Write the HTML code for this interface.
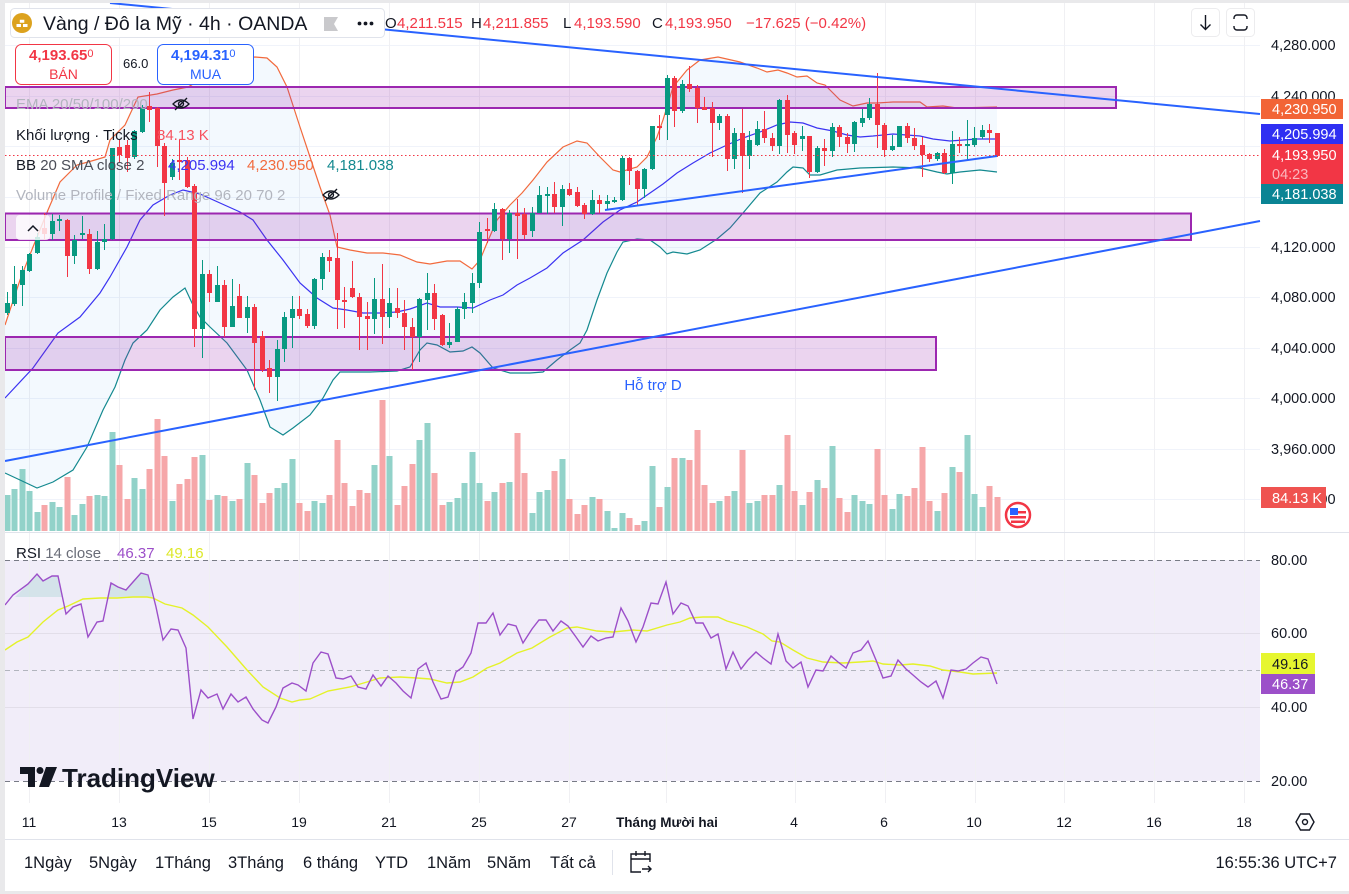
<!DOCTYPE html>
<html><head><meta charset="utf-8">
<style>
html,body{margin:0;padding:0;background:#fff;overflow:hidden;}
svg{display:block;font-family:"Liberation Sans","DejaVu Sans",sans-serif;}
</style></head><body>
<svg id="s" width="1349" height="894" viewBox="0 0 1349 894" xmlns="http://www.w3.org/2000/svg">
<rect x="0" y="0" width="1349" height="894" fill="#fff"/>
<!-- grid -->
<g stroke="#f0f3fa" stroke-width="1">
<line x1="5" y1="45.5" x2="1260" y2="45.5"/><line x1="5" y1="96.5" x2="1260" y2="96.5"/>
<line x1="5" y1="146.5" x2="1260" y2="146.5"/><line x1="5" y1="197.5" x2="1260" y2="197.5"/>
<line x1="5" y1="247.5" x2="1260" y2="247.5"/><line x1="5" y1="297.5" x2="1260" y2="297.5"/>
<line x1="5" y1="348.5" x2="1260" y2="348.5"/><line x1="5" y1="398.5" x2="1260" y2="398.5"/>
<line x1="5" y1="449.5" x2="1260" y2="449.5"/><line x1="5" y1="499.5" x2="1260" y2="499.5"/>
</g>
<!-- RSI background -->
<rect x="5" y="560" width="1255" height="221" fill="#f1edf9"/>
<g stroke="#f0f0f3" stroke-width="1">
<line x1="29.5" y1="3" x2="29.5" y2="803"/><line x1="119.5" y1="3" x2="119.5" y2="803"/>
<line x1="209.5" y1="3" x2="209.5" y2="803"/><line x1="299.5" y1="3" x2="299.5" y2="803"/>
<line x1="389.5" y1="3" x2="389.5" y2="803"/><line x1="479.5" y1="3" x2="479.5" y2="803"/>
<line x1="569.5" y1="3" x2="569.5" y2="803"/><line x1="666.5" y1="3" x2="666.5" y2="803"/>
<line x1="795.5" y1="3" x2="795.5" y2="803"/><line x1="885.5" y1="3" x2="885.5" y2="803"/>
<line x1="975.5" y1="3" x2="975.5" y2="803"/><line x1="1064.5" y1="3" x2="1064.5" y2="803"/>
<line x1="1154.5" y1="3" x2="1154.5" y2="803"/><line x1="1244.5" y1="3" x2="1244.5" y2="803"/>
</g>
<g stroke="#e2dee9" stroke-width="1">
<line x1="5" y1="633.5" x2="1260" y2="633.5"/><line x1="5" y1="707.5" x2="1260" y2="707.5"/>
</g>
<line x1="5" y1="560.5" x2="1260" y2="560.5" stroke="#787b86" stroke-dasharray="5 4"/>
<line x1="5" y1="781.5" x2="1260" y2="781.5" stroke="#787b86" stroke-dasharray="5 4"/>
<line x1="5" y1="670.5" x2="1260" y2="670.5" stroke="#b2b5be" stroke-dasharray="5 4"/>

<!-- BB fill -->
<polygon id="bbfill" fill="#2196f3" fill-opacity="0.055" points=""/>
<!-- volume -->
<g id="vol"></g>
<!-- BB lines -->
<polyline id="bbu" fill="none" stroke="#f26a3d" stroke-width="1.2" points="5,325 20,280 33,247 48,210 60,182 77,165 95,160 105,157 110,140 125,125 138,97 157,94 173,90 188,87 200,80 215,70 230,62 245,58 255,57 267,58 277,67 287,87 300,127 310,157 320,187 330,215 337,247 350,250 367,253 383,253 400,255 417,262 430,264 447,261 460,261 472,269 480,260 487,243 497,220 510,205 522,193 533,180 547,162 563,147 577,141 587,143 600,157 613,170 620,172 637,167 647,157 657,137 663,120 673,87 687,70 700,60 718,57 740,62 757,68 767,72 778,70 787,73 797,77 807,76 817,83 825,85 833,93 840,100 853,106 867,103 877,103 893,102 920,102 927,107 943,106 957,108 997,107"/>
<polyline fill="none" stroke="#3b33f2" stroke-width="1.2" points="5,398 33,368 58,333 80,317 100,293 110,277 127,247 140,220 153,205 170,195 183,190 200,194 220,203 240,212 253,220 267,240 283,260 300,283 317,298 333,308 347,310 363,313 380,313 397,312 410,309 427,303 440,307 457,307 473,308 490,300 503,295 517,285 530,278 547,268 563,253 583,240 603,222 620,210 637,202 650,193 663,184 677,173 693,163 710,153 727,145 743,138 760,132 777,125 790,122 803,123 817,128 833,131 847,135 860,137 873,136 893,134 920,136 933,139 950,141 977,139 997,139"/>
<polyline id="bbl" fill="none" stroke="#13898f" stroke-width="1.2" points="5,473 20,480 37,488 53,482 73,470 87,447 103,410 115,387 125,360 133,343 147,330 160,310 173,297 185,288 192,303 200,317 210,327 227,343 247,370 260,400 270,427 283,435 293,428 310,415 323,398 333,380 340,372 350,372 370,372 397,371 410,367 420,350 427,343 437,345 450,352 463,351 472,347 480,353 493,368 510,373 530,373 543,372 557,360 570,350 580,343 587,330 597,300 607,273 617,252 623,242 637,239 650,240 660,247 667,254 673,252 687,254 700,250 717,239 730,228 743,213 760,193 777,182 787,172 793,167 803,168 810,175 820,175 837,170 860,168 893,167 920,168 937,172 947,174 953,173 960,172 980,170 997,172"/>
<!-- zones -->
<rect x="5" y="87" width="1111" height="21" fill="#9c27b0" fill-opacity="0.2" stroke="#9c27b0" stroke-width="2"/>
<rect x="5" y="213.5" width="1186" height="26.5" fill="#9c27b0" fill-opacity="0.2" stroke="#9c27b0" stroke-width="2"/>
<rect x="5" y="337" width="931" height="33" fill="#9c27b0" fill-opacity="0.2" stroke="#9c27b0" stroke-width="2"/>
<!-- candles -->
<g id="cd"></g>
<!-- trendlines -->
<g stroke="#2962ff" stroke-width="2" fill="none">
<line x1="110" y1="3" x2="1260" y2="114"/>
<line x1="5" y1="461" x2="1260" y2="221"/>
<line x1="605" y1="210" x2="997" y2="156"/>
</g>
<text x="653" y="390" font-size="15" fill="#2962ff" text-anchor="middle">Hỗ trợ D</text>
<!-- price line -->
<line x1="5" y1="155.5" x2="1260" y2="155.5" stroke="#f23645" stroke-width="1" stroke-dasharray="1.5 2.5"/>

<!-- RSI -->
<polygon fill="#089981" fill-opacity="0.12" points="15,597 28,584 37,574 43,581 52,576 58,576 62,597"/>
<polygon fill="#089981" fill-opacity="0.12" points="108,597 111,583 118,587 126,590 133,582 141,573 148,575 152,597"/>
<polyline fill="none" stroke="#e4f228" stroke-width="1.4" points="5,650 17,642 28,637 43,622 58,610 68,606 83,599 100,598 117,598 133,597 147,597 153,598 165,604 182,608 193,615 208,627 227,647 247,670 263,687 280,698 292,702 300,700 310,699 328,691 350,687 367,682 380,678 400,677 417,678 430,679 447,683 460,682 473,677 487,668 500,663 517,653 532,648 550,637 567,628 577,627 597,631 613,632 633,630 647,631 667,625 680,622 690,618 703,617 718,617 727,621 747,627 763,634 772,641 780,642 793,650 807,658 823,662 843,663 860,662 873,661 883,664 900,665 913,664 930,666 943,670 960,672 973,674 997,673"/>
<polyline fill="none" stroke="#9c4fc9" stroke-width="1.4" points="5,605 13,595 28,584 37,574 43,581 52,576 58,576 66,614 73,607 81,604 88,637 97,622 103,621 111,583 118,587 126,590 133,582 141,573 148,575 156,607 163,640 171,629 178,630 186,648 193,719 201,690 208,698 217,694 223,709 231,694 238,702 246,697 253,709 262,720 268,723 276,707 283,688 292,683 298,685 306,691 313,663 321,652 328,654 336,678 343,679 351,676 358,687 366,689 373,675 381,686 388,676 396,683 403,691 411,698 418,669 426,663 433,682 441,699 448,697 456,672 463,667 471,653 478,623 486,623 493,613 500,635 508,624 516,626 523,643 532,629 539,620 546,620 553,631 561,621 568,626 576,637 583,647 591,636 598,641 606,638 613,637 621,608 628,621 636,642 643,627 651,603 658,604 666,582 673,614 681,603 688,606 696,623 703,623 711,638 718,634 726,669 733,652 741,669 748,660 756,652 763,658 771,664 778,634 786,661 793,668 801,662 808,687 816,670 823,671 831,656 838,662 846,668 853,653 861,650 868,641 876,660 883,678 891,676 898,660 906,669 913,675 921,682 928,687 936,681 943,698 951,670 958,671 966,669 973,663 981,657 988,659 997,684"/>

<!-- header legend -->
<rect x="10.5" y="8.5" width="374" height="29" rx="4" fill="#fff" stroke="#e0e3eb"/>
<circle cx="22" cy="23" r="10" fill="#dca21e"/>
<path d="M16.5 27h4.5v-3h-4.5z M23 27h4.5v-3h-4.5z M19.8 22.8h4.5v-3h-4.5z" fill="#fff"/>
<text x="43" y="30" font-size="19.5" fill="#131722">Vàng / Đô la Mỹ · 4h · OANDA</text>
<path d="M324 17h14l-4 7 4 7h-14z" fill="#c9c9cc"/>
<circle cx="359.5" cy="23.5" r="1.9" fill="#131722"/><circle cx="365.5" cy="23.5" r="1.9" fill="#131722"/><circle cx="371.5" cy="23.5" r="1.9" fill="#131722"/>
<g font-size="15">
<text x="385" y="28" fill="#131722">O</text><text x="397" y="28" fill="#f23645">4,211.515</text>
<text x="471" y="28" fill="#131722">H</text><text x="483" y="28" fill="#f23645">4,211.855</text>
<text x="563" y="28" fill="#131722">L</text><text x="574" y="28" fill="#f23645">4,193.590</text>
<text x="652" y="28" fill="#131722">C</text><text x="665" y="28" fill="#f23645">4,193.950</text>
<text x="746" y="28" fill="#f23645">−17.625 (−0.42%)</text>
</g>
<!-- buy/sell -->
<rect x="15.5" y="44.5" width="96" height="40" rx="6" fill="#fff" stroke="#f23645"/>
<text x="29" y="60" font-size="15" font-weight="bold" fill="#f23645">4,193.65<tspan font-size="11" dy="-3" font-weight="normal">0</tspan></text>
<text x="63.5" y="79" font-size="14" fill="#f23645" text-anchor="middle">BÁN</text>
<text x="123" y="68" font-size="13" fill="#131722">66.0</text>
<rect x="157.5" y="44.5" width="96" height="40" rx="6" fill="#fff" stroke="#2962ff"/>
<text x="171" y="60" font-size="15" font-weight="bold" fill="#2962ff">4,194.31<tspan font-size="11" dy="-3" font-weight="normal">0</tspan></text>
<text x="205.5" y="79" font-size="14" fill="#2962ff" text-anchor="middle">MUA</text>
<!-- indicator legends -->
<g font-size="15">
<text x="16" y="109" fill="#b2b5be">EMA 20/50/100/200</text>
<text x="16" y="140" fill="#131722">Khối lượng · Ticks</text>
<text x="157" y="140" fill="#f7525f">84.13 K</text>
<text x="16" y="170" fill="#131722">BB <tspan fill="#4a4d57">20 SMA close 2</tspan></text>
<text x="168" y="170" fill="#3b33f2">4,205.994</text>
<text x="247" y="170" fill="#f26a3d">4,230.950</text>
<text x="327" y="170" fill="#13898f">4,181.038</text>
<text x="16" y="200" fill="#b2b5be">Volume Profile / Fixed Range 96 20 70 2</text>
<text x="16" y="558" fill="#131722">RSI <tspan fill="#6a6d78">14 close</tspan></text>
<text x="117" y="558" fill="#9c4fc9">46.37</text>
<text x="166" y="558" fill="#dde82a">49.16</text>
</g>
<g stroke="#131722" fill="none" stroke-width="1.3">
<g transform="translate(181,104)"><path d="M-8 0 Q0 -8 8 0 Q0 8 -8 0Z"/><circle r="2.5"/><line x1="-6" y1="6" x2="6" y2="-6"/></g>
<g transform="translate(331,195)"><path d="M-8 0 Q0 -8 8 0 Q0 8 -8 0Z"/><circle r="2.5"/><line x1="-6" y1="6" x2="6" y2="-6"/></g>
</g>
<!-- collapse btn -->
<rect x="16" y="215" width="34" height="25" rx="4" fill="#fff" fill-opacity="0.8"/>
<path d="M28 231 L33 226 L38 231" stroke="#131722" stroke-width="1.5" fill="none"/>
<!-- flag -->
<circle cx="1018" cy="515" r="12" fill="#fff" stroke="#f23645" stroke-width="2.5"/>
<rect x="1010" y="511" width="16" height="2.5" fill="#f23645"/><rect x="1010" y="516" width="16" height="2.5" fill="#f23645"/><rect x="1011" y="520.5" width="14" height="2.5" fill="#f23645"/>
<rect x="1010" y="508" width="8" height="7" fill="#2962ff"/>
<!-- LOGO -->
<g fill="#131722">
<path d="M20 767h15v20h-7v-13h-8z"/>
<circle cx="40" cy="770.5" r="3.5"/>
<path d="M46 767h11l-8 20h-10z"/>
<text x="62" y="787" font-size="26" font-weight="bold">TradingView</text>
</g>
<!-- top right buttons -->
<rect x="1191.5" y="8.5" width="28" height="28" rx="4" fill="#fff" stroke="#ececee"/>
<path d="M1205.5 15v14 M1200.5 24.5 L1205.5 29.5 L1210.5 24.5" stroke="#131722" stroke-width="1.4" fill="none"/>
<rect x="1226.5" y="8.5" width="28" height="28" rx="4" fill="#fff" stroke="#ececee"/>
<path d="M1234 19v-1a3 3 0 0 1 3-3h7a3 3 0 0 1 3 3v1 M1234 26v1a3 3 0 0 0 3 3h7a3 3 0 0 0 3-3v-1" stroke="#131722" stroke-width="1.4" fill="none"/>

<!-- price axis -->
<g font-size="14.5" fill="#131722">
<text x="1271" y="50">4,280.000</text>
<text x="1271" y="101">4,240.000</text>
<text x="1271" y="252">4,120.000</text>
<text x="1271" y="302">4,080.000</text>
<text x="1271" y="353">4,040.000</text>
<text x="1271" y="403">4,000.000</text>
<text x="1271" y="454">3,960.000</text>
<text x="1271" y="504">3,920.000</text>
<text x="1271" y="565">80.00</text>
<text x="1271" y="638">60.00</text>
<text x="1271" y="712">40.00</text>
<text x="1271" y="786">20.00</text>
</g>
<rect x="1261" y="99" width="82" height="20" fill="#f26436"/>
<rect x="1261" y="124" width="82" height="20" fill="#2f2ff2"/>
<rect x="1261" y="144" width="82" height="40" fill="#f23645"/>
<rect x="1261" y="184" width="82" height="20" fill="#0a8494"/>
<rect x="1261" y="487" width="65" height="21" fill="#ef5350"/>
<rect x="1261" y="653" width="54" height="21" fill="#e6f62f"/>
<rect x="1261" y="674" width="54" height="20" fill="#9c50c9"/>
<g font-size="14.5" fill="#fff">
<text x="1272" y="114">4,230.950</text>
<text x="1272" y="139">4,205.994</text>
<text x="1272" y="160">4,193.950</text>
<text x="1272" y="179" fill="#fbb8bd">04:23</text>
<text x="1272" y="199">4,181.038</text>
<text x="1272" y="503">84.13 K</text>
<text x="1272" y="669" fill="#131722">49.16</text>
<text x="1272" y="689">46.37</text>
</g>
<!-- separators -->
<line x1="0" y1="532.5" x2="1349" y2="532.5" stroke="#e0e3eb"/>
<line x1="0" y1="839.5" x2="1349" y2="839.5" stroke="#e0e3eb"/>
<!-- time axis -->
<g font-size="14" fill="#131722" text-anchor="middle">
<text x="29" y="827">11</text><text x="119" y="827">13</text><text x="209" y="827">15</text>
<text x="299" y="827">19</text><text x="389" y="827">21</text><text x="479" y="827">25</text>
<text x="569" y="827">27</text><text x="667" y="827" font-weight="bold" font-size="13.5">Tháng Mười hai</text>
<text x="794" y="827">4</text><text x="884" y="827">6</text><text x="974" y="827">10</text>
<text x="1064" y="827">12</text><text x="1154" y="827">16</text><text x="1244" y="827">18</text>
</g>
<polygon points="1296,822 1300.5,814 1309.5,814 1314,822 1309.5,830 1300.5,830" fill="none" stroke="#131722" stroke-width="1.4"/>
<circle cx="1305" cy="822" r="2.5" fill="none" stroke="#131722" stroke-width="1.4"/>
<!-- bottom bar -->
<g font-size="16.5" fill="#131722">
<text x="24" y="868">1Ngày</text><text x="89" y="868">5Ngày</text><text x="155" y="868">1Tháng</text>
<text x="228" y="868">3Tháng</text><text x="303" y="868">6 tháng</text><text x="375" y="868">YTD</text>
<text x="427" y="868">1Năm</text><text x="487" y="868">5Năm</text><text x="550" y="868">Tất cả</text>
<text x="1337" y="868" text-anchor="end">16:55:36 UTC+7</text>
</g>
<line x1="612.5" y1="850" x2="612.5" y2="875" stroke="#e0e3eb"/>
<g stroke="#131722" stroke-width="1.4" fill="none">
<path d="M641 872h-10v-18h19v8"/><path d="M631 859h19 M636 851v5 M645 851v5"/>
<path d="M642 869h9 M648 866l3 3-3 3"/>
</g>
<!-- frame -->
<rect x="0" y="0" width="1349" height="3" fill="#e9e9eb"/>
<rect x="0" y="0" width="5" height="894" fill="#e9e9eb"/>
<rect x="0" y="891" width="1349" height="3" fill="#e9e9eb"/>
</svg>
<script>
(function(){
var C=[[1,303,313,292,315],[1,284,304,266,306],[1,270,285,266,306],[1,254,271,253,272],[1,237,253,233,254],[0,228,234,213,240],[1,221,234,214,240],[1,219,221,215,231],[0,220,256,219,277],[1,240,256,235,264],[1,233,235,216,239],[0,234,269,229,274],[1,242,269,231,270],[1,239,242,224,250],[1,148,239,148,240],[0,147,155,140,163],[0,145,158,140,172],[1,131,157,130,159],[1,108,132,105,133],[0,106,110,92,122],[0,108,146,107,167],[0,146,183,143,216],[1,163,177,159,180],[0,160,162,140,180],[0,160,187,157,188],[0,186,329,184,347],[1,274,329,260,358],[0,274,293,270,302],[1,285,302,266,302],[0,285,327,280,337],[1,306,327,279,327],[0,296,318,284,318],[1,307,318,296,333],[0,307,343,304,390],[0,336,370,331,372],[0,368,377,360,393],[1,349,377,340,401],[1,317,349,312,362],[1,309,318,296,348],[0,309,316,296,319],[0,314,326,309,328],[1,279,326,278,329],[1,257,279,253,290],[0,257,261,250,272],[0,258,300,233,329],[0,300,302,287,328],[0,288,297,261,298],[0,297,317,293,350],[0,316,319,302,350],[1,299,319,278,334],[0,299,317,264,344],[1,303,317,288,328],[0,308,313,288,318],[0,313,327,300,350],[0,327,337,318,370],[1,299,337,298,362],[1,293,300,273,330],[0,293,319,284,330],[0,315,345,314,346],[1,342,345,323,348],[1,309,342,307,342],[1,302,309,293,319],[1,283,303,273,313],[1,232,283,222,288],[0,229,231,218,243],[1,209,231,203,232],[0,209,239,208,260],[1,213,239,210,253],[0,213,216,199,259],[0,214,235,208,239],[1,213,231,207,237],[1,195,213,186,213],[1,194,196,187,214],[0,194,207,182,213],[1,189,207,185,226],[0,189,195,183,196],[0,192,206,187,207],[0,205,214,203,219],[1,200,214,190,215],[0,200,204,195,213],[1,201,204,195,210],[1,200,202,197,203],[1,158,200,156,201],[0,158,171,157,185],[0,171,189,170,205],[1,169,189,168,198],[1,126,169,126,170],[0,126,128,115,140],[1,78,115,75,140],[0,78,111,76,127],[1,84,111,80,113],[0,84,89,66,92],[0,88,108,85,123],[0,107,110,97,110],[0,108,123,102,157],[1,116,123,114,130],[0,116,159,114,171],[1,133,159,128,169],[0,133,156,109,193],[1,140,156,131,169],[1,129,145,121,146],[0,129,138,111,143],[0,138,146,133,151],[1,100,146,99,154],[0,100,135,95,153],[0,133,145,131,154],[1,136,139,126,151],[0,136,172,136,178],[1,148,172,146,173],[0,148,151,139,166],[1,127,151,123,157],[0,127,137,125,147],[0,137,144,133,153],[1,122,144,121,152],[1,118,123,109,127],[1,104,118,98,120],[0,104,125,73,148],[0,125,150,123,157],[1,146,150,135,151],[1,126,147,126,147],[0,126,138,123,143],[0,138,146,128,150],[0,145,155,137,177],[0,154,159,153,162],[1,153,159,152,161],[0,153,173,149,174],[1,144,173,131,184],[0,144,146,137,153],[1,144,146,120,161],[1,138,145,127,147],[1,130,137,125,139],[0,130,133,124,143],[0,133,156,133,157]];
var V=[495,489,469,491,512,505,502,507,477,515,504,496,495,496,432,465,499,478,489,469,419,456,501,484,479,457,455,500,495,496,501,499,463,475,503,493,488,483,459,503,511,501,503,495,440,483,506,490,493,465,400,456,505,486,464,440,423,473,505,502,498,483,452,483,501,492,483,482,433,473,513,492,490,471,459,499,514,505,497,499,511,528,513,518,525,521,466,507,487,458,458,460,430,485,503,501,496,491,450,503,501,495,495,485,435,491,505,492,480,488,446,498,512,495,501,504,449,495,509,494,496,488,447,501,511,493,467,472,435,494,507,486,497];
var ns="http://www.w3.org/2000/svg";
var g=document.getElementById('cd'),gv=document.getElementById('vol');
function el(p,tag,a){var e=document.createElementNS(ns,tag);for(var k in a)e.setAttribute(k,a[k]);p.appendChild(e);}
for(var i=0;i<C.length;i++){
 var c=C[i],x=Math.round(6.7+7.5*i),col=c[0]?'#089981':'#f23645';
 if(i<V.length){el(gv,'rect',{x:x-2.5,y:V[i],width:6,height:531-V[i],fill:c[0]?'#92d2c9':'#f6a7a9'});}
 el(g,'line',{x1:x+0.5,y1:c[3],x2:x+0.5,y2:c[4],stroke:col,'stroke-width':1});
 el(g,'rect',{x:x-2,y:c[1],width:5,height:Math.max(1,c[2]-c[1]),fill:col});
}
var u=document.getElementById('bbu').getAttribute('points').trim().split(/\s+/);
var l=document.getElementById('bbl').getAttribute('points').trim().split(/\s+/).reverse();
document.getElementById('bbfill').setAttribute('points',u.concat(l).join(' '));
})();
</script>
</body></html>
